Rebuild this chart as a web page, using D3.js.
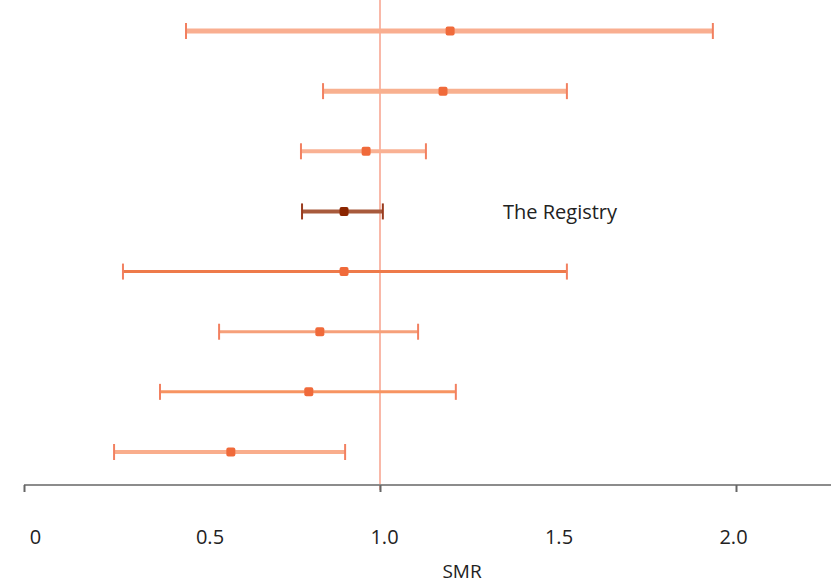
<!DOCTYPE html>
<html>
<head>
<meta charset="utf-8">
<script src="https://cdn.jsdelivr.net/npm/d3@7"></script>
<style>
  body { margin: 0; background: #fff; }
  text { font-family: "Open Sans", "Noto Sans", sans-serif; }
</style>
</head>
<body>
<div id="chart"></div>
<script>
const rows = ["r1", "r2", "r3", "registry", "r5", "r6", "r7", "r8"];
const smr = [1.197, 1.177, 0.961, 0.899, 0.899, 0.831, 0.80, 0.581];
const lower = [0.455, 0.84, 0.778, 0.781, 0.278, 0.548, 0.382, 0.253];
const upper = [1.935, 1.525, 1.129, 1.008, 1.525, 1.107, 1.213, 0.902];
const tickLabels = [0, 0.5, 1.0, 1.5, 2.0];

// per-row look
const barColor = ["#f9ae90", "#f8b08f", "#f9b193", "#a85a3c", "#ee7a4a", "#f6a07a", "#f79462", "#f9ad8c"];
const barWidth = [5, 5, 4, 4, 3, 3, 3, 4];

const width = 831;
const height = 584;

const svg = d3.select("#chart")
    .append("svg")
    .attr("width", width)
    .attr("height", height);

const x = d3.scaleLinear()
    .domain([0, 2.0])
    .range([24, 736]);

// tick labels sit a little off the tick marks in the original
const xLabel = d3.scaleLinear()
    .domain([0, 2.0])
    .range([35, 733]);

const y = d3.scalePoint()
    .domain(rows)
    .range([31, 452]);

// reference line at SMR = 1
svg.append("line")
    .attr("x1", x(1)).attr("x2", x(1))
    .attr("y1", 0).attr("y2", 490)
    .attr("stroke", "#f9b8a8")
    .attr("stroke-width", 2);

const g = svg.append("g")
    .selectAll("g")
    .data(rows)
    .join("g")
    .attr("transform", d => `translate(0,${y(d)})`);

g.append("line")
    .attr("x1", (d, i) => x(lower[i]))
    .attr("x2", (d, i) => x(upper[i]))
    .attr("stroke", (d, i) => barColor[i])
    .attr("stroke-width", (d, i) => barWidth[i]);

// caps
g.selectAll("line.cap")
    .data((d, i) => [lower[i], upper[i]].map(v => ({ v, i })))
    .join("line")
    .attr("class", "cap")
    .attr("x1", d => x(d.v)).attr("x2", d => x(d.v))
    .attr("y1", -8).attr("y2", 8)
    .attr("stroke", d => d.i === 3 ? "#9a3b1e" : "#f28060")
    .attr("stroke-width", 2);

g.append("rect")
    .attr("x", (d, i) => x(smr[i]) - 4.5)
    .attr("y", -4.5)
    .attr("width", 9)
    .attr("height", 9)
    .attr("rx", 2)
    .attr("fill", (d, i) => i === 3 ? "#8b2500" : "#f06a3a");

svg.append("text")
    .attr("x", 503)
    .attr("y", y("registry") + 8)
    .attr("font-size", 20)
    .attr("fill", "#222")
    .text("The Registry");

// axis line with ticks at 0, 1, 2
const axisY = 485;
svg.append("line")
    .attr("x1", x(0)).attr("x2", width)
    .attr("y1", axisY).attr("y2", axisY)
    .attr("stroke", "#8c8c8c")
    .attr("stroke-width", 2);

svg.append("g")
    .attr("transform", `translate(0,${axisY})`)
    .call(d3.axisBottom(x).tickValues([0, 1, 2]).tickSize(7).tickFormat(""))
    .call(g => g.select(".domain").remove())
    .call(g => g.selectAll(".tick line").attr("stroke", "#666").attr("stroke-width", 2));

svg.append("g")
    .attr("transform", `translate(0,${axisY})`)
    .call(d3.axisBottom(xLabel).tickValues(tickLabels).tickSize(0).tickPadding(45)
        .tickFormat(d => d === 0 ? "0" : d3.format(".1f")(d)))
    .call(g => g.select(".domain").remove())
    .call(g => g.selectAll(".tick text")
        .attr("font-size", 20)
        .attr("fill", "#222")
        .attr("font-family", "'Open Sans', sans-serif"));

svg.append("text")
    .attr("x", 462)
    .attr("y", 578)
    .attr("text-anchor", "middle")
    .attr("font-size", 19)
    .attr("fill", "#222")
    .text("SMR");
</script>
</body>
</html>
